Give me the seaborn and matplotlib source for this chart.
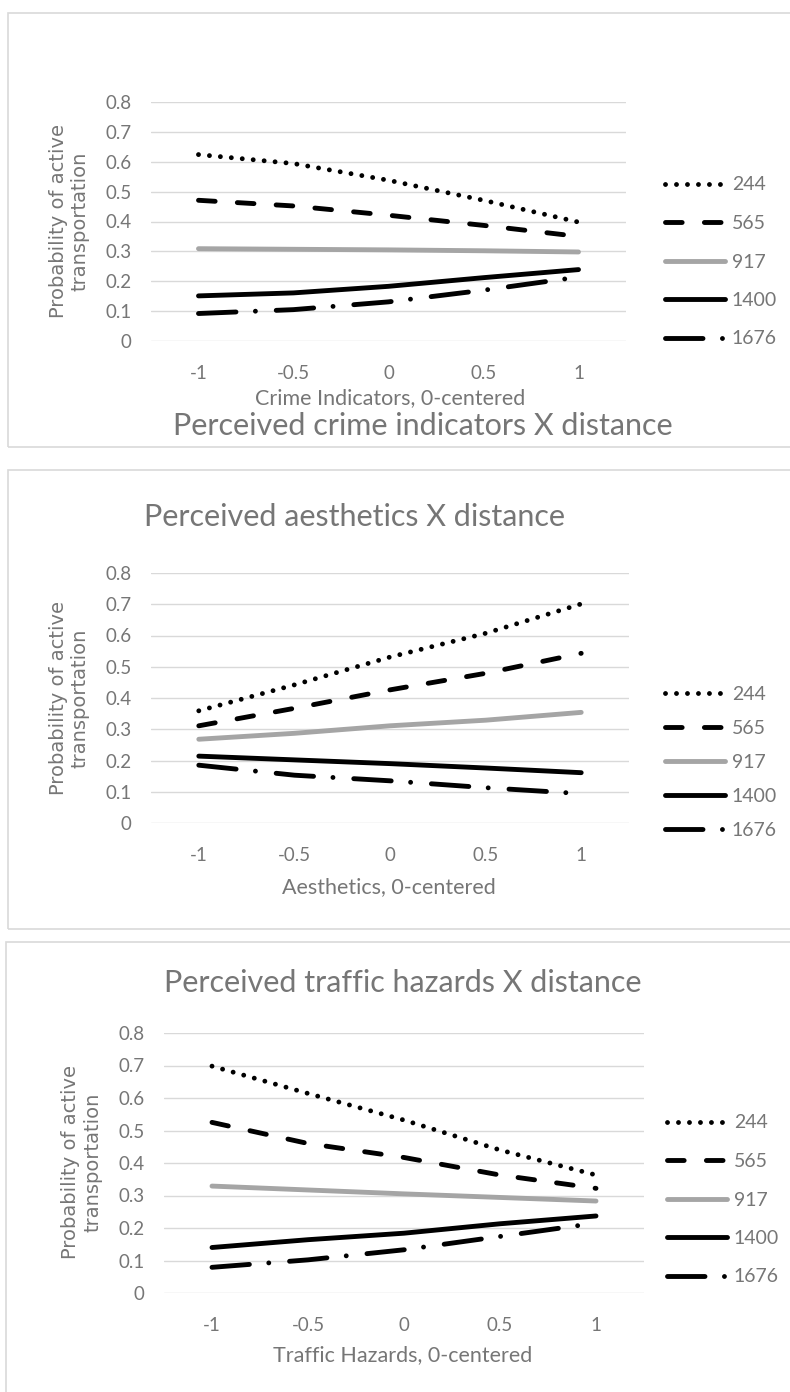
import matplotlib
matplotlib.use("Agg")
import matplotlib.pyplot as plt
import seaborn as sns
import pandas as pd
from matplotlib.patches import Rectangle

# x levels (0-centered perception scores) and distance groups
x_levels = [-1, -0.5, 0, 0.5, 1]
x_ticklabels = ["-1", "-0.5", "0", "0.5", "1"]
distances = ["244", "565", "917", "1400", "1676"]
y_ticks = [0, 0.1, 0.2, 0.3, 0.4, 0.5, 0.6, 0.7, 0.8]

# Perceived crime indicators X distance
crime_244 = [0.624, 0.594, 0.538, 0.471, 0.398]
crime_565 = [0.471, 0.452, 0.421, 0.387, 0.350]
crime_917 = [0.309, 0.307, 0.305, 0.302, 0.298]
crime_1400 = [0.151, 0.161, 0.183, 0.212, 0.239]
crime_1676 = [0.092, 0.105, 0.131, 0.170, 0.214]

# Perceived aesthetics X distance
aest_244 = [0.359, 0.442, 0.531, 0.607, 0.701]
aest_565 = [0.311, 0.367, 0.426, 0.479, 0.543]
aest_917 = [0.268, 0.287, 0.311, 0.329, 0.354]
aest_1400 = [0.214, 0.202, 0.190, 0.176, 0.161]
aest_1676 = [0.185, 0.153, 0.135, 0.113, 0.094]

# Perceived traffic hazards X distance
traf_244 = [0.698, 0.614, 0.532, 0.440, 0.363]
traf_565 = [0.525, 0.460, 0.417, 0.363, 0.322]
traf_917 = [0.329, 0.317, 0.305, 0.294, 0.283]
traf_1400 = [0.140, 0.164, 0.184, 0.213, 0.237]
traf_1676 = [0.079, 0.102, 0.133, 0.174, 0.215]

titles = ["Perceived crime indicators X distance",
          "Perceived aesthetics X distance",
          "Perceived traffic hazards X distance"]
xlabels = ["Crime Indicators, 0-centered",
           "Aesthetics, 0-centered",
           "Traffic Hazards, 0-centered"]
series = [
    [crime_244, crime_565, crime_917, crime_1400, crime_1676],
    [aest_244, aest_565, aest_917, aest_1400, aest_1676],
    [traf_244, traf_565, traf_917, traf_1400, traf_1676],
]

# layout in pixels (figure is 790 x 1392)
W, H = 790, 1392
layout = [
    dict(box=(8, 13, 800, 447), ax=(151, 102, 626, 341), title=(423, 426),
         xlab=(390, 398), ylab=(69, 221), leg=(665, 262), spacing=40.5),
    dict(box=(8, 470, 800, 929), ax=(151, 573, 629, 823), title=(355, 517),
         xlab=(389, 887), ylab=(69, 698), leg=(665, 762), spacing=36),
    dict(box=(6, 942, 800, 1400), ax=(164, 1033, 644, 1293), title=(403, 983),
         xlab=(403, 1355), ylab=(82, 1162), leg=(667, 1200), spacing=40.5),
]

palette = {"244": "black", "565": "black", "917": "#A5A5A5",
           "1400": "black", "1676": "black"}
dash_map = {"244": (0.01, 7.9), "565": (12, 16), "917": "",
            "1400": "", "1676": (27, 14, 0.01, 15)}

GRAY = "#767676"
FONT = ["Lato", "DejaVu Sans"]

sns.set_style("white")
plt.rcParams["font.family"] = FONT
plt.rcParams["lines.scale_dashes"] = False


def fx(px):
    return px / W


def fy(py):
    return 1 - py / H


fig = plt.figure(figsize=(W / 100, H / 100), dpi=100)

for i, lay in enumerate(layout):
    # chart area border
    bl, bt, br, bb = lay["box"]
    fig.patches.append(Rectangle((fx(bl), fy(bb)), (br - bl) / W, (bb - bt) / H,
                                 transform=fig.transFigure, fill=False,
                                 edgecolor="#D9D9D9", linewidth=1.2))

    l, t, r, b = lay["ax"]
    ax = fig.add_axes([fx(l), fy(b), (r - l) / W, (b - t) / H])

    rows = []
    for d, vals in zip(distances, series[i]):
        for xv, yv in zip(x_levels, vals):
            rows.append({"x": xv, "prob": yv, "distance": d})
    df = pd.DataFrame(rows)

    sns.lineplot(data=df, x="x", y="prob", hue="distance", style="distance",
                 hue_order=distances, style_order=distances, palette=palette,
                 dashes=dash_map, linewidth=3.5, dash_capstyle="round",
                 solid_capstyle="round", legend=False, sort=False, ax=ax)

    ax.set_xlim(-1.25, 1.25)
    ax.set_ylim(0, 0.8)
    ax.set_xticks(x_levels)
    ax.set_xticklabels(x_ticklabels)
    ax.set_yticks(y_ticks)
    ax.set_yticklabels(["0" if v == 0 else f"{v:.1f}" for v in y_ticks])
    ax.yaxis.grid(True, color="#D9D9D9", linewidth=1.0)
    ax.xaxis.grid(False)
    ax.set_axisbelow(True)
    for s in ax.spines.values():
        s.set_visible(False)
    ax.tick_params(axis="both", length=0, labelcolor=GRAY, labelsize=13.5)
    ax.tick_params(axis="x", pad=17)
    ax.tick_params(axis="y", pad=14)
    ax.set_xlabel("")
    ax.set_ylabel("")

    fig.text(fx(lay["title"][0]), fy(lay["title"][1]), titles[i], ha="center",
             va="center", fontsize=22, color=GRAY)
    fig.text(fx(lay["xlab"][0]), fy(lay["xlab"][1]), xlabels[i], ha="center",
             va="center", fontsize=15.5, color=GRAY)
    fig.text(fx(lay["ylab"][0]), fy(lay["ylab"][1]),
             "Probability of active\ntransportation", ha="center", va="center",
             rotation=90, fontsize=14, color=GRAY, linespacing=1.2,
             family=["DejaVu Sans"])

    handles = ax.get_lines()[:len(distances)]
    fs = 14
    rowh = 19
    ax.legend(handles, distances, loc="center left",
              bbox_to_anchor=(fx(lay["leg"][0]), fy(lay["leg"][1])),
              bbox_transform=fig.transFigure, frameon=False, fontsize=fs,
              labelcolor=GRAY, handlelength=60 / (fs * 100 / 72),
              handletextpad=0.35, borderpad=0, borderaxespad=0,
              labelspacing=(lay["spacing"] - rowh) / (fs * 100 / 72))

fig.savefig("out.png", dpi=100)
